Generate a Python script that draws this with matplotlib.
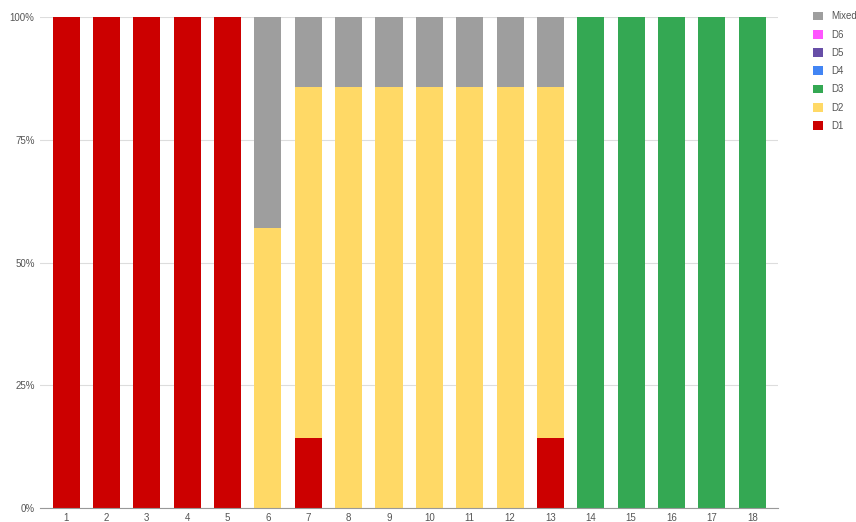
import matplotlib.pyplot as plt
import numpy as np
from matplotlib.patches import Patch

plt.rcParams["font.family"] = ["Liberation Sans", "DejaVu Sans"]

# share of each class per group (percent)
groups = [str(i) for i in range(1, 19)]
d1 = [100, 100, 100, 100, 100, 0, 14.3, 0, 0, 0, 0, 0, 14.3, 0, 0, 0, 0, 0]
d2 = [0, 0, 0, 0, 0, 57.1, 71.4, 85.7, 85.7, 85.7, 85.7, 85.7, 71.4, 0, 0, 0, 0, 0]
d3 = [0, 0, 0, 0, 0, 0, 0, 0, 0, 0, 0, 0, 0, 100, 100, 100, 100, 100]
d4 = [0] * 18
d5 = [0] * 18
d6 = [0] * 18
mixed = [0, 0, 0, 0, 0, 42.9, 14.3, 14.3, 14.3, 14.3, 14.3, 14.3, 14.3, 0, 0, 0, 0, 0]

series = [("D1", d1, "#cc0000"), ("D2", d2, "#ffd966"), ("D3", d3, "#34a853"),
          ("D4", d4, "#4285f4"), ("D5", d5, "#674ea7"), ("D6", d6, "#ff55ff"),
          ("Mixed", mixed, "#9e9e9e")]

fig = plt.figure(figsize=(8.56, 5.22), dpi=100)
ax = fig.add_axes([0.047, 0.027, 0.862, 0.94])

x = np.arange(1, len(groups) + 1)
bottom = np.zeros(len(groups))
for name, vals, color in series:
    vals = np.array(vals, dtype=float)
    ax.bar(x, vals, bottom=bottom, width=0.67, color=color, zorder=2)
    bottom += vals

ax.set_xlim(0.36, 18.64)
ax.set_ylim(0, 100)
ax.set_xticks(x)
ax.set_xticklabels(groups)
ax.set_yticks([0, 25, 50, 75, 100])
ax.set_yticklabels(["0%", "25%", "50%", "75%", "100%"])
ax.yaxis.grid(True, color="#dddddd", lw=0.8, zorder=0)
ax.tick_params(length=0, labelsize=7, colors="#555555", pad=4)
for s in ("top", "right", "left"):
    ax.spines[s].set_visible(False)
ax.spines["bottom"].set_color("#999999")
ax.spines["bottom"].set_zorder(3)

handles = [Patch(facecolor=c, label=n) for n, _, c in reversed(series)]
fig.legend(handles=handles, loc="upper left", bbox_to_anchor=(0.94, 0.995),
           frameon=False, fontsize=7, labelcolor="#555555",
           handlelength=1.0, handleheight=1.0, handletextpad=0.8,
           labelspacing=0.85)

fig.savefig("out.png", dpi=100)
